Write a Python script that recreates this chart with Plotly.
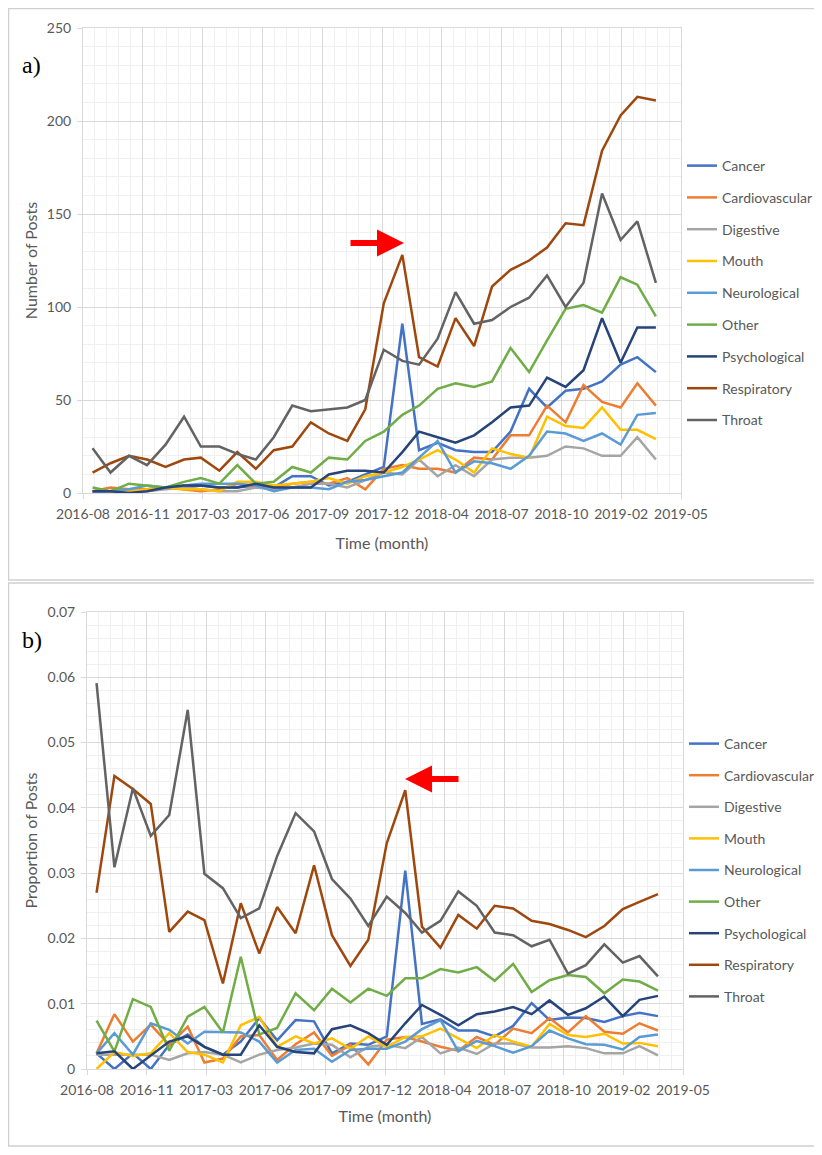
import pandas as pd
import plotly.graph_objects as go

# ---------------- data ----------------
MONTHS = pd.date_range("2016-09-01", periods=32, freq="MS")
CATEGORIES = ["Cancer", "Cardiovascular", "Digestive", "Mouth", "Neurological",
              "Other", "Psychological", "Respiratory", "Throat"]
COLORS = ["#4472C4", "#ED7D31", "#A5A5A5", "#FFC000", "#5B9BD5",
          "#70AD47", "#264478", "#9E480E", "#636363"]

# a) Number of posts
count_cancer = [1, 1, 1, 2, 3, 3, 4, 3, 3, 4, 3, 9, 9, 4, 6, 10,
                14, 91, 23, 27, 23, 22, 22, 33, 56, 46, 55, 56, 60, 69, 73, 65]
count_cardio = [1, 3, 2, 2, 3, 2, 1, 2, 5, 3, 3, 5, 6, 5, 8, 2,
                13, 15, 13, 13, 11, 19, 18, 31, 31, 47, 38, 58, 49, 46, 59, 47]
count_digestive = [1, 0, 1, 1, 2, 3, 2, 1, 1, 3, 2, 3, 5, 5, 3, 7,
                   11, 10, 18, 9, 15, 9, 18, 19, 19, 20, 25, 24, 20, 20, 30, 18]
count_mouth = [0, 1, 1, 2, 3, 2, 2, 1, 6, 6, 4, 5, 6, 8, 5, 9,
               11, 14, 18, 23, 18, 11, 24, 21, 19, 41, 36, 35, 46, 34, 34, 29]
count_neuro = [0, 1, 2, 4, 3, 4, 5, 5, 5, 4, 1, 3, 3, 2, 6, 7,
               9, 11, 19, 28, 11, 17, 16, 13, 20, 33, 32, 28, 32, 26, 42, 43]
count_other = [3, 1, 5, 4, 3, 6, 8, 5, 15, 5, 6, 14, 11, 19, 18, 28,
               33, 42, 47, 56, 59, 57, 60, 78, 65, 82, 99, 101, 97, 116, 112, 95]
count_psych = [1, 1, 0, 1, 3, 4, 4, 3, 3, 5, 3, 3, 3, 10, 12, 12,
               11, 22, 33, 30, 27, 31, 38, 46, 47, 62, 57, 66, 94, 70, 89, 89]
count_resp = [11, 16, 20, 18, 14, 18, 19, 12, 22, 13, 23, 25, 38, 32, 28, 45,
              102, 128, 73, 68, 94, 79, 111, 120, 125, 132, 145, 144, 184, 203, 213, 211]
count_throat = [24, 11, 20, 15, 26, 41, 25, 25, 21, 18, 30, 47, 44, 45, 46, 50,
                77, 71, 69, 83, 108, 91, 93, 100, 105, 117, 100, 113, 161, 136, 146, 113]

# b) Proportion of posts
prop_cancer = [0.0024, 0.0, 0.0024, 0.0, 0.0037, 0.0053, 0.0034, 0.0022, 0.0042, 0.0078, 0.0044,
               0.0075, 0.0073, 0.0024, 0.0039, 0.0037, 0.0050, 0.0304, 0.0069, 0.0076, 0.0059,
               0.0059, 0.0050, 0.0066, 0.0101, 0.0075, 0.0079, 0.0078, 0.0072, 0.0081, 0.0086, 0.0081]
prop_cardio = [0.0024, 0.0084, 0.0042, 0.0068, 0.0037, 0.0065, 0.0010, 0.0016, 0.0050, 0.0052, 0.0014,
               0.0038, 0.0056, 0.0020, 0.0037, 0.0007, 0.0045, 0.0049, 0.0042, 0.0034, 0.0028,
               0.0049, 0.0037, 0.0062, 0.0055, 0.0078, 0.0056, 0.0081, 0.0057, 0.0054, 0.0070, 0.0059]
prop_digestive = [0.0022, 0.0022, 0.0022, 0.0022, 0.0014, 0.0024, 0.0026, 0.0022, 0.0010, 0.0022, 0.0029,
                  0.0033, 0.0039, 0.0037, 0.0018, 0.0034, 0.0037, 0.0032, 0.0049, 0.0024, 0.0033,
                  0.0023, 0.0039, 0.0039, 0.0033, 0.0033, 0.0035, 0.0032, 0.0024, 0.0024, 0.0035, 0.0021]
prop_mouth = [0.0, 0.0026, 0.0020, 0.0024, 0.0055, 0.0026, 0.0022, 0.0010, 0.0067, 0.0080, 0.0034,
              0.0050, 0.0039, 0.0047, 0.0031, 0.0050, 0.0034, 0.0049, 0.0050, 0.0062, 0.0047,
              0.0032, 0.0052, 0.0042, 0.0034, 0.0069, 0.0052, 0.0049, 0.0054, 0.0039, 0.0040, 0.0035]
prop_neuro = [0.0024, 0.0055, 0.0022, 0.0070, 0.0060, 0.0039, 0.0057, 0.0056, 0.0056, 0.0042, 0.0010,
              0.0029, 0.0031, 0.0011, 0.0029, 0.0031, 0.0031, 0.0042, 0.0061, 0.0075, 0.0027,
              0.0043, 0.0035, 0.0025, 0.0035, 0.0059, 0.0047, 0.0038, 0.0037, 0.0030, 0.0049, 0.0053]
prop_other = [0.0074, 0.0027, 0.0107, 0.0095, 0.0028, 0.0080, 0.0095, 0.0056, 0.0172, 0.0053, 0.0063,
              0.0116, 0.0090, 0.0123, 0.0102, 0.0123, 0.0112, 0.0139, 0.0139, 0.0153, 0.0148,
              0.0156, 0.0135, 0.0161, 0.0118, 0.0136, 0.0144, 0.0141, 0.0116, 0.0137, 0.0134, 0.0120]
prop_psych = [0.0024, 0.0027, 0.0, 0.0021, 0.0042, 0.0050, 0.0034, 0.0022, 0.0022, 0.0067, 0.0034,
              0.0026, 0.0024, 0.0061, 0.0067, 0.0055, 0.0037, 0.0070, 0.0098, 0.0083, 0.0067,
              0.0084, 0.0088, 0.0095, 0.0084, 0.0105, 0.0083, 0.0093, 0.0111, 0.0081, 0.0106, 0.0112]
prop_resp = [0.0270, 0.0449, 0.0429, 0.0406, 0.0210, 0.0241, 0.0228, 0.0131, 0.0254, 0.0177, 0.0248,
             0.0208, 0.0312, 0.0205, 0.0158, 0.0198, 0.0346, 0.0427, 0.0218, 0.0186, 0.0236,
             0.0215, 0.0250, 0.0246, 0.0227, 0.0222, 0.0213, 0.0202, 0.0219, 0.0245, 0.0256, 0.0268]
prop_throat = [0.0591, 0.0309, 0.0430, 0.0357, 0.0389, 0.0550, 0.0299, 0.0277, 0.0231, 0.0246, 0.0326,
               0.0392, 0.0364, 0.0291, 0.0261, 0.0219, 0.0264, 0.0239, 0.0209, 0.0227, 0.0272,
               0.0250, 0.0209, 0.0205, 0.0188, 0.0198, 0.0146, 0.0159, 0.0191, 0.0163, 0.0173, 0.0142]

COUNTS = [count_cancer, count_cardio, count_digestive, count_mouth, count_neuro,
          count_other, count_psych, count_resp, count_throat]
PROPS = [prop_cancer, prop_cardio, prop_digestive, prop_mouth, prop_neuro,
         prop_other, prop_psych, prop_resp, prop_throat]

X_TICK_LABELS = ["2016-08", "2016-11", "2017-03", "2017-06", "2017-09", "2017-12",
                 "2018-04", "2018-07", "2018-10", "2019-02", "2019-05"]
AXIS_START = pd.Timestamp("2016-08-16")
X_TICKS = pd.date_range(AXIS_START, periods=len(X_TICK_LABELS), freq="100D")
X_MINOR = pd.date_range(AXIS_START, X_TICKS[-1], freq="20D")

# ---------------- figure ----------------
OFF = 8                     # page body margin
W, H = 822 - OFF, 1155 - 2 * OFF
FONT = "Lato"
TXT = "#595959"
fig = go.Figure()

for name, col, ys in zip(CATEGORIES, COLORS, COUNTS):
    fig.add_trace(go.Scatter(x=MONTHS, y=ys, name=name, mode="lines",
                             line=dict(color=col, width=2.5),
                             xaxis="x", yaxis="y", legend="legend",
                             legendgroup="a_" + name))
for name, col, ys in zip(CATEGORIES, COLORS, PROPS):
    fig.add_trace(go.Scatter(x=MONTHS, y=ys, name=name, mode="lines",
                             line=dict(color=col, width=2.5),
                             xaxis="x2", yaxis="y2", legend="legend2",
                             legendgroup="b_" + name))

def px_x(v):
    return (v - OFF) / W

def px_y(v):
    return 1 - (v - OFF) / H

grid_major = "#D9D9D9"
grid_minor = "#F0F0F0"

def xaxis_cfg(x0, x1, y_anchor, standoff):
    return dict(
        domain=[px_x(x0), px_x(x1)], anchor=y_anchor, type="date", automargin=False,
        range=[X_TICKS[0], X_TICKS[-1]],
        tickmode="array", tickvals=list(X_TICKS), ticktext=X_TICK_LABELS,
        showgrid=True, gridcolor=grid_major, gridwidth=1,
        minor=dict(tickmode="array", tickvals=list(X_MINOR), showgrid=True,
                   gridcolor=grid_minor, gridwidth=1, ticks=""),
        ticks="outside", ticklen=5, tickcolor=grid_major, ticklabelstandoff=3,
        showline=True, linecolor=grid_major, mirror=True, linewidth=1,
        tickfont=dict(family=FONT, size=14, color=TXT),
        title=dict(text="Time (month)", font=dict(family=FONT, size=16, color=TXT), standoff=standoff),
        zeroline=False,
    )

def yaxis_cfg(y0, y1, x_anchor, rng, dt, mdt, title):
    return dict(
        domain=[px_y(y1), px_y(y0)], anchor=x_anchor, range=rng, automargin=False,
        tickmode="linear", tick0=0, dtick=dt,
        showgrid=True, gridcolor=grid_major, gridwidth=1,
        minor=dict(tickmode="linear", tick0=0, dtick=mdt, showgrid=True,
                   gridcolor=grid_minor, gridwidth=1, ticks=""),
        ticks="outside", ticklen=5, tickcolor=grid_major, ticklabelstandoff=3,
        showline=True, linecolor=grid_major, mirror=True, linewidth=1,
        tickfont=dict(family=FONT, size=14, color=TXT),
        title=dict(text=title, font=dict(family=FONT, size=16, color=TXT), standoff=5),
        zeroline=False,
    )

fig.update_layout(
    width=W, height=H,
    margin=dict(l=0, r=0, t=0, b=0, autoexpand=False),
    paper_bgcolor="white", plot_bgcolor="white",
    font=dict(family=FONT, color=TXT),
    xaxis=xaxis_cfg(83, 681, "y", 17),
    yaxis=yaxis_cfg(28, 493, "x", [0, 250], 50, 10, "Number of Posts"),
    xaxis2=xaxis_cfg(87, 683, "y2", 14),
    yaxis2=yaxis_cfg(612, 1069, "x2", [0, 0.07], 0.01, 0.002, "Proportion of Posts"),
    legend=dict(x=px_x(682), y=px_y(150), xanchor="left", yanchor="top",
                font=dict(family=FONT, size=14, color=TXT), tracegroupgap=10.6,
                bgcolor="rgba(0,0,0,0)"),
    legend2=dict(x=px_x(684), y=px_y(728), xanchor="left", yanchor="top",
                 font=dict(family=FONT, size=14, color=TXT), tracegroupgap=10.4,
                 bgcolor="rgba(0,0,0,0)"),
    shapes=[
        dict(type="rect", xref="paper", yref="paper",
             x0=px_x(8.5), x1=px_x(823), y0=px_y(580), y1=px_y(8.5),
             line=dict(color="#D0D0D0", width=1.5)),
        dict(type="rect", xref="paper", yref="paper",
             x0=px_x(8.5), x1=px_x(823), y0=px_y(1146), y1=px_y(583),
             line=dict(color="#D0D0D0", width=1.5)),
    ],
    annotations=[
        dict(text="a)", xref="paper", yref="paper", x=px_x(20), y=px_y(65),
             xanchor="left", yanchor="middle", showarrow=False,
             font=dict(family="Liberation Serif", size=24, color="black")),
        dict(text="b)", xref="paper", yref="paper", x=px_x(20), y=px_y(640),
             xanchor="left", yanchor="middle", showarrow=False,
             font=dict(family="Liberation Serif", size=24, color="black")),
        dict(text="", xref="paper", yref="paper", x=px_x(404), y=px_y(243),
             ax=-55, ay=0, showarrow=True, arrowhead=2, arrowsize=0.9,
             arrowwidth=6, arrowcolor="#FF0000"),
        dict(text="", xref="paper", yref="paper", x=px_x(405), y=px_y(779),
             ax=55, ay=0, showarrow=True, arrowhead=2, arrowsize=0.9,
             arrowwidth=6, arrowcolor="#FF0000"),
    ],
)

fig.write_html("out.html")
